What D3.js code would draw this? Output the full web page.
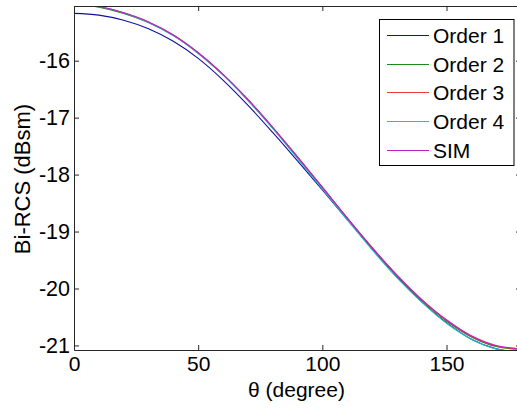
<!DOCTYPE html>
<html>
<head>
<meta charset="utf-8">
<script src="https://cdn.jsdelivr.net/npm/d3@7"></script>
<style>
  body { margin: 0; background: #fff; }
  svg { display: block; }
  text { font-family: Arial, "Liberation Sans", sans-serif; fill: #000; }
</style>
</head>
<body>
<svg id="chart" width="517" height="408"></svg>
<script>
// Bistatic RCS versus observation angle, series expansion orders vs. simulation
const theta  = [0, 10, 20, 30, 40, 50, 60, 70, 80, 90, 100, 110, 120, 130, 140, 150, 160, 170, 180];
const order1 = [-15.17, -15.20, -15.29, -15.44, -15.66, -15.96, -16.34, -16.78, -17.26, -17.76, -18.27, -18.79, -19.30, -19.79, -20.23, -20.60, -20.89, -21.06, -21.12];
const order2 = [-15.01, -15.06, -15.17, -15.33, -15.56, -15.87, -16.25, -16.69, -17.18, -17.70, -18.23, -18.77, -19.29, -19.78, -20.21, -20.57, -20.85, -21.02, -21.07];
const order3 = [-15.00, -15.05, -15.16, -15.32, -15.55, -15.86, -16.24, -16.68, -17.17, -17.69, -18.22, -18.76, -19.28, -19.77, -20.20, -20.56, -20.84, -21.01, -21.06];
const order4 = [-15.00, -15.05, -15.16, -15.33, -15.56, -15.87, -16.25, -16.70, -17.19, -17.72, -18.25, -18.79, -19.32, -19.81, -20.24, -20.61, -20.89, -21.06, -21.11];
const sim    = [-15.00, -15.05, -15.16, -15.32, -15.55, -15.86, -16.24, -16.68, -17.17, -17.69, -18.22, -18.76, -19.28, -19.76, -20.19, -20.55, -20.83, -21.00, -21.06];

const seriesNames  = ["Order 1", "Order 2", "Order 3", "Order 4", "SIM"];
const seriesValues = [order1, order2, order3, order4, sim];
const seriesColors = ["#10109a", "#1a8a1a", "#e83a3a", "#20c0c0", "#c020c8"];

const xTicks = [0, 50, 100, 150];
const yTicks = [-21, -20, -19, -18, -17, -16];
const xDomain = [0, 180];
const yDomain = [-21.08, -15.04];

const svg = d3.select("#chart");
const plotLeft = 74, plotRight = 521, plotTop = 6, plotBottom = 350;

const x = d3.scaleLinear().domain(xDomain).range([plotLeft, plotRight]);
const y = d3.scaleLinear().domain(yDomain).range([plotBottom, plotTop]);

svg.append("defs").append("clipPath").attr("id", "plotClip")
  .append("rect").attr("x", plotLeft).attr("y", plotTop)
  .attr("width", plotRight - plotLeft).attr("height", plotBottom - plotTop);

// curves
const line = d3.line()
  .x((d, i) => x(theta[i]))
  .y(d => y(d))
  .curve(d3.curveCatmullRom.alpha(0.5));

const plot = svg.append("g").attr("clip-path", "url(#plotClip)");
seriesValues.forEach((vals, k) => {
  plot.append("path")
    .attr("d", line(vals))
    .attr("fill", "none")
    .attr("stroke", seriesColors[k])
    .attr("stroke-width", 1.1);
});

// axes (ticks pointing inward, box on all sides)
const fs = 21;
const axisColor = "#262626";

const gx = svg.append("g").attr("transform", `translate(0,${plotBottom})`)
  .call(d3.axisBottom(x).tickValues(xTicks).tickFormat(d3.format("d")).tickSize(-5).tickPadding(6).tickSizeOuter(0));
const gxt = svg.append("g").attr("transform", `translate(0,${plotTop})`)
  .call(d3.axisTop(x).tickValues(xTicks).tickFormat("").tickSize(-5).tickSizeOuter(0));
const gy = svg.append("g").attr("transform", `translate(${plotLeft},0)`)
  .call(d3.axisLeft(y).tickValues(yTicks).tickFormat(d3.format("d")).tickSize(-5).tickPadding(4).tickSizeOuter(0));
const gyr = svg.append("g").attr("transform", `translate(${plotRight},0)`)
  .call(d3.axisRight(y).tickValues(yTicks).tickFormat("").tickSize(-5).tickSizeOuter(0));

[gx, gxt, gy, gyr].forEach(g => {
  g.select(".domain").attr("stroke", axisColor).attr("stroke-width", 1);
  g.selectAll(".tick line").attr("stroke", axisColor);
  g.selectAll("text").attr("font-size", fs).attr("font-family", null).attr("fill", "#000");
});
gy.selectAll(".tick text").attr("font-size", 21.5).text(d => String(d).replace("\u2212", "-"));

// axis titles
svg.append("text")
  .attr("x", (plotLeft + plotRight) / 2 - 1).attr("y", 396.5)
  .attr("text-anchor", "middle").attr("font-size", fs)
  .text("\u03b8 (degree)");

svg.append("text")
  .attr("transform", "translate(30,179) rotate(-90)")
  .attr("text-anchor", "middle").attr("font-size", 22)
  .text("Bi-RCS (dBsm)");

// legend
const lg = svg.append("g");
lg.append("rect")
  .attr("x", 379.5).attr("y", 19.5).attr("width", 134.5).attr("height", 146)
  .attr("fill", "#fff").attr("stroke", "#000").attr("stroke-width", 1);
const rowY = d3.scaleLinear().domain([0, 4]).range([35, 149.5]);
seriesNames.forEach((name, k) => {
  const yy = Math.round(rowY(k)) + 0.5;
  lg.append("line")
    .attr("x1", 387).attr("x2", 429).attr("y1", yy).attr("y2", yy)
    .attr("stroke", seriesColors[k]).attr("stroke-width", 1);
  lg.append("text")
    .attr("x", 433).attr("y", yy).attr("dy", "0.36em")
    .attr("font-size", fs)
    .text(name);
});
</script>
</body>
</html>
